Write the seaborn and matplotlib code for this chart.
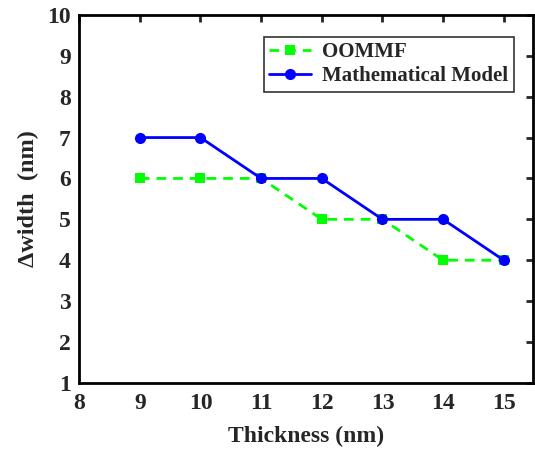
import matplotlib
matplotlib.use("Agg")
import matplotlib.pyplot as plt
import seaborn as sns
import pandas as pd

thickness = [9, 10, 11, 12, 13, 14, 15]
oommf = [6, 6, 6, 5, 5, 4, 4]
math_model = [7, 7, 6, 6, 5, 5, 4]
x_ticks = [8, 9, 10, 11, 12, 13, 14, 15]
y_ticks = [1, 2, 3, 4, 5, 6, 7, 8, 9, 10]

sns.set_style("white")
plt.rcParams['font.family'] = ['Liberation Serif', 'DejaVu Serif']
plt.rcParams['font.weight'] = 'bold'

df = pd.DataFrame({"Thickness": thickness, "OOMMF": oommf, "Mathematical Model": math_model})

fig = plt.figure(figsize=(5.35, 4.51), dpi=100)
ax = fig.add_axes([0.148, 0.151, 0.848, 0.816])

sns.lineplot(data=df, x="Thickness", y="OOMMF", ax=ax, color="#00FF00", linestyle=(0, (3.5, 2.5)),
             marker="s", markersize=7, markeredgewidth=0, linewidth=2, label="OOMMF")
sns.lineplot(data=df, x="Thickness", y="Mathematical Model", ax=ax, color="#0000FF", linestyle="-",
             marker="o", markersize=8, markeredgewidth=0, linewidth=2, label="Mathematical Model")

ax.set_xlim(8, 15.48)
ax.set_ylim(1, 10)
ax.set_xticks(x_ticks)
ax.set_yticks(y_ticks)
ax.tick_params(direction="in", length=5, width=2, top=True, right=True,
               labelsize=17)
ax.tick_params(axis="x", pad=7)
ax.tick_params(axis="y", pad=6)
for lab in ax.get_xticklabels() + ax.get_yticklabels():
    lab.set_fontweight("bold")
for s in ax.spines.values():
    s.set_linewidth(2)
    s.set_color("black")

ax.set_xlabel("Thickness (nm)", fontsize=17, fontweight="bold", labelpad=9)
ax.set_ylabel("Δwidth  (nm)", fontsize=17.5, fontweight="bold", labelpad=6)

leg = ax.legend(loc="upper right", bbox_to_anchor=(0.958, 0.94), fontsize=15, frameon=True,
                fancybox=False, edgecolor="black", handlelength=2.0, borderpad=0.25,
                labelspacing=0.2, handletextpad=0.55, borderaxespad=0)
leg.get_frame().set_linewidth(1.2)
for t in leg.get_texts():
    t.set_fontweight("bold")

fig.savefig("out.png", dpi=100)
